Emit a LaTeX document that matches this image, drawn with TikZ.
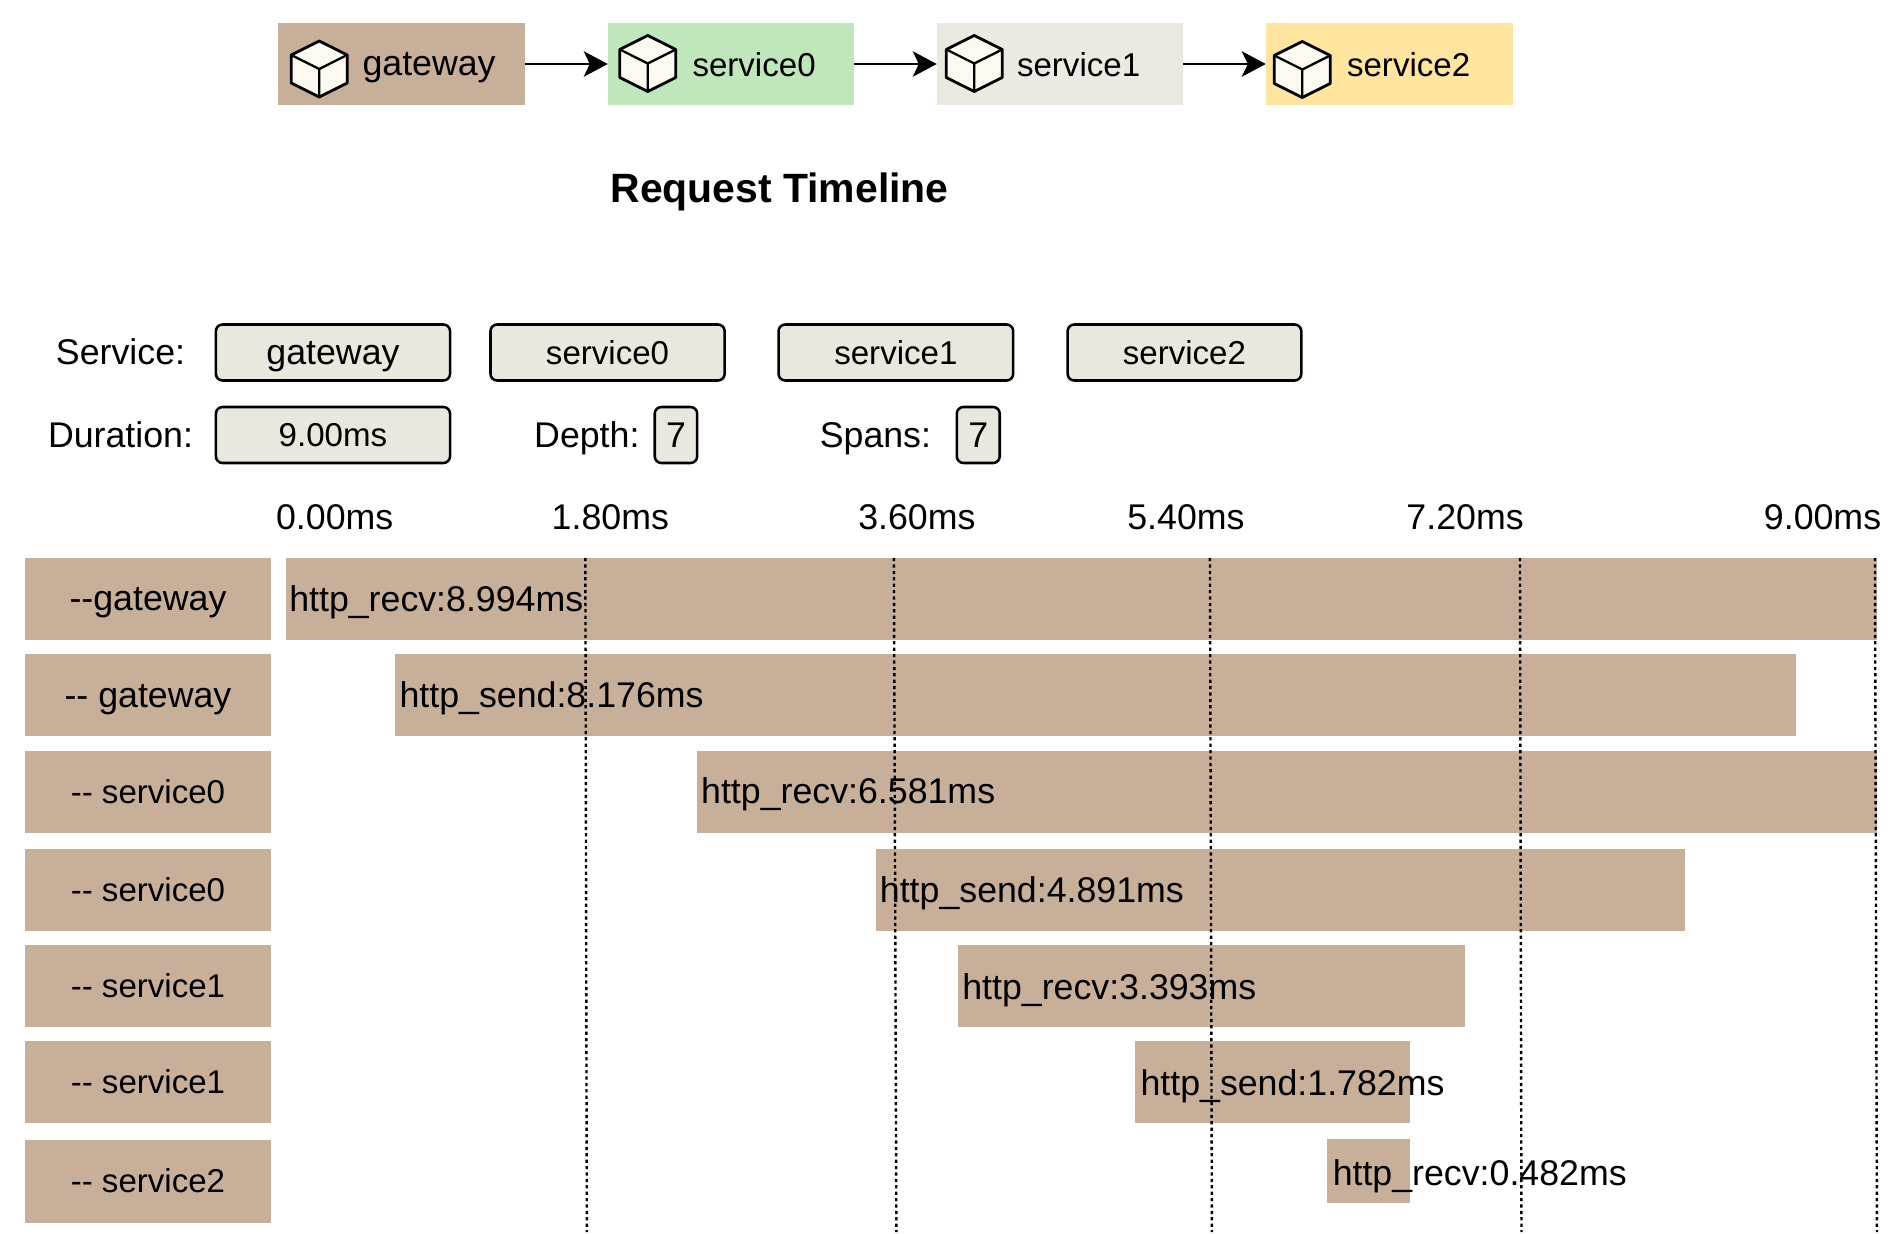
\documentclass[tikz,border=0pt]{standalone}
\usepackage{fontspec}
\setmainfont{Liberation Sans}
\usetikzlibrary{arrows.meta}
\definecolor{tan}{HTML}{C8AF9A}
\definecolor{mint}{HTML}{C0E7BC}
\definecolor{stone}{HTML}{EBE9E1}
\definecolor{sand}{HTML}{FFE59F}
\definecolor{btn}{HTML}{E9E7DE}
\definecolor{cubefill}{HTML}{FBF9F0}
\newcommand{\fs}[1]{\fontsize{#1}{#1}\selectfont}
\newcommand{\boxn}[6]{%
  \pgfmathsetmacro{\bw}{(#5-#3)*0.7489}\pgfmathsetmacro{\bh}{(#6-#4)*0.75}%
  \node[#1,minimum width=\bw pt,minimum height=\bh pt,anchor=north west] (#2) at (#3,#4)}
\tikzset{
  x=0.7489pt,y=-0.75pt,
  flat/.style={inner sep=0pt,outer sep=0pt,text=black},
  bar/.style={flat,fill=tan},
  btnbox/.style={flat,fill=btn,draw=black,line width=1.9pt,rounded corners=5pt},
  bigt/.style={font=\fs{26.8},text height=18pt,text depth=0pt},
  midt/.style={font=\fs{24.8},text height=17.6pt,text depth=0pt},
  big/.style={flat,bigt},
  mid/.style={flat,midt},
  guide/.style={line width=1.8pt,dash pattern=on 2.4pt off 2.4pt},
  link/.style={line width=1.9pt,-{Stealth[length=18pt,width=19pt,inset=4.5pt]}},
  cubepic/.pic={
    \draw[fill=cubefill,line width=2.1pt,line join=round]
      (0,-28)--(28,-14)--(28,14)--(0,28)--(-28,14)--(-28,-14)--cycle;
    \draw[line width=1.7pt,line join=round] (-28,-14)--(0,0)--(28,-14) (0,0)--(0,28);
  }
}
\begin{document}
\begin{tikzpicture}
\useasboundingbox (-0.15pt,0pt) rectangle (1427.85pt,-925.5pt);
% top services
\boxn{flat,fill=tan}{g}{278.5}{23}{525.5}{105}{};
\boxn{flat,fill=mint}{s0}{608.5}{23}{855.5}{105}{};
\boxn{flat,fill=stone}{s1}{938}{23}{1185}{105}{};
\boxn{flat,fill=sand}{s2}{1267.5}{23}{1515.5}{105}{};
\draw[link] (g) -- (s0);
\draw[link] (s0) -- (s1);
\draw[link] (s1) -- (s2);
\pic at (319.5,69) {cubepic};
\pic at (648.5,63.5) {cubepic};
\pic at (975.5,63.5) {cubepic};
\pic at (1304,69.5) {cubepic};
\node[big] (tg) at (429.5,64) {gateway};
\node[mid] (t0) at (755,65) {service0};
\node[mid] (t1) at (1080,65) {service1};
\node[mid] (t2) at (1410.5,65) {service2};
\node[flat,font=\fs{30.7}\bfseries,text height=22pt,text depth=0pt] (title) at (780.5,187.5) {Request Timeline};
% info rows
\node[big] (ls) at (120.5,352) {Service:};
\boxn{btnbox,bigt}{bg}{216}{324.5}{450.5}{380.5}{gateway};
\boxn{btnbox,midt}{b0}{491}{324.5}{725.5}{380.5}{service0};
\boxn{btnbox,midt}{b1}{779.5}{324.5}{1014.5}{380.5}{service1};
\boxn{btnbox,midt}{b2}{1069}{324.5}{1303}{380.5}{service2};
\node[big] (ld) at (120.5,435) {Duration:};
\boxn{btnbox,midt}{bd}{216}{407}{450.5}{463}{9.00ms};
\node[big] (lp) at (587.5,435) {Depth:};
\boxn{btnbox,bigt}{bp}{655.5}{407}{698}{463}{7};
\node[big] (lc) at (876.5,435) {Spans:};
\boxn{btnbox,bigt}{bc}{958}{407}{1001}{463}{7};
% axis
\node[big] (a0) at (335,517) {0.00ms};
\node[big] (a1) at (611,517) {1.80ms};
\node[big] (a2) at (918,517) {3.60ms};
\node[big] (a3) at (1187.5,517) {5.40ms};
\node[big] (a4) at (1467,517) {7.20ms};
\node[big] (a5) at (1825,517) {9.00ms};
% rows
\boxn{bar,bigt}{r1}{24.5}{557.5}{271.5}{639.5}{-{}-gateway};
\boxn{bar,bigt}{r2}{24.5}{654}{271.5}{736}{-{}- gateway};
\boxn{bar,midt}{r3}{24.5}{750.5}{271.5}{832.5}{-{}- service0};
\boxn{bar,midt}{r4}{24.5}{849}{271.5}{931}{-{}- service0};
\boxn{bar,midt}{r5}{24.5}{945}{271.5}{1027}{-{}- service1};
\boxn{bar,midt}{r6}{24.5}{1041}{271.5}{1123}{-{}- service1};
\boxn{bar,midt}{r7}{24.5}{1140}{271.5}{1222.5}{-{}- service2};
% bars
\boxn{bar}{b1a}{286}{557.5}{1880}{639.5}{};
\boxn{bar}{b2a}{395}{654}{1798}{736}{};
\boxn{bar}{b3a}{698}{750.5}{1880}{832.5}{};
\boxn{bar}{b4a}{877}{849}{1687.5}{931}{};
\boxn{bar}{b5a}{959}{945}{1467}{1027}{};
\boxn{bar}{b6a}{1136}{1041}{1412}{1123}{};
\boxn{bar}{b7a}{1329}{1139}{1412}{1203}{};
% guides
\coordinate (d1t) at (586,558); \coordinate (d1b) at (587.5,1232);
\coordinate (d2t) at (895,558); \coordinate (d2b) at (897.5,1232);
\coordinate (d3t) at (1211.5,558); \coordinate (d3b) at (1213.5,1232);
\coordinate (d4t) at (1522,558); \coordinate (d4b) at (1523.5,1232);
\coordinate (d5t) at (1877.5,558); \coordinate (d5b) at (1879.5,1232);
\draw[guide] (d1t) -- (d1b);
\draw[guide] (d2t) -- (d2b);
\draw[guide] (d3t) -- (d3b);
\draw[guide] (d4t) -- (d4b);
\draw[guide] (d5t) -- (d5b);
% bar texts
\node[big,anchor=west] (x1) at (289.5,599) {http\_recv:8.994ms};
\node[big,anchor=west] (x2) at (400,695) {http\_send:8.176ms};
\node[big,anchor=west] (x3) at (702,791) {http\_recv:6.581ms};
\node[big,anchor=west] (x4) at (881,890) {http\_send:4.891ms};
\node[big,anchor=west] (x5) at (963.5,987) {http\_recv:3.393ms};
\node[big,anchor=west] (x6) at (1142,1083) {http\_send:1.782ms};
\node[big,anchor=west] (x7) at (1334.5,1173) {http\_recv:0.482ms};
\end{tikzpicture}
\end{document}
